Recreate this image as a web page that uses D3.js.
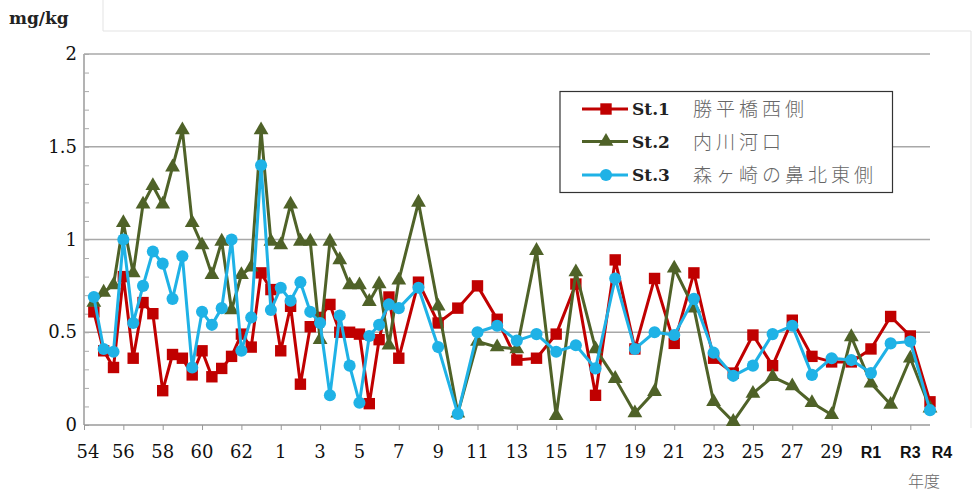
<!DOCTYPE html>
<html><head><meta charset="utf-8">
<script src="https://cdn.jsdelivr.net/npm/d3@7"></script>
<style>
html,body{margin:0;padding:0;background:#fff;}
svg{display:block;}
</style></head>
<body>
<svg id="chart" width="974" height="494"></svg>
<script>
// Measurement periods (Showa-based year position; semiannual until H6, annual from H7)
const periods = [54.5,55,55.5,56,56.5,57,57.5,58,58.5,59,59.5,60,60.5,61,61.5,62,62.5,63,63.5,64,64.5,65,65.5,66,66.5,67,67.5,68,68.5,69,69.5,70,
  71,72,73,74,75,76,77,78,79,80,81,82,83,84,85,86,87,88,89,90,91,92,93,94,95,96,97];

const st1 = [0.61,0.40,0.31,0.80,0.36,0.66,0.60,0.185,0.38,0.36,0.27,0.40,0.26,0.305,0.37,0.49,0.42,0.82,0.73,0.40,0.64,0.22,0.53,0.58,0.65,0.50,0.50,0.49,0.115,0.46,0.69,0.36,
  0.77,0.55,0.63,0.75,0.57,0.35,0.36,0.49,0.76,0.16,0.89,0.41,0.79,0.44,0.82,0.36,0.28,0.485,0.32,0.565,0.37,0.34,0.34,0.41,0.585,0.48,0.125];
const st2 = [0.66,0.715,0.755,1.09,0.82,1.19,1.29,1.19,1.39,1.59,1.09,0.97,0.81,0.99,0.62,0.81,0.85,1.59,0.99,0.97,1.19,0.99,0.99,0.46,0.99,0.89,0.755,0.755,0.665,0.76,0.43,0.78,
  1.20,0.64,0.063,0.45,0.42,0.41,0.94,0.05,0.825,0.41,0.25,0.065,0.18,0.845,0.63,0.125,0.018,0.17,0.26,0.21,0.12,0.055,0.475,0.225,0.11,0.36,0.09];
const st3 = [0.69,0.41,0.395,1.0,0.55,0.75,0.935,0.87,0.68,0.91,0.31,0.61,0.54,0.63,1.0,0.40,0.58,1.40,0.62,0.74,0.67,0.77,0.61,0.55,0.16,0.59,0.32,0.12,0.48,0.54,0.65,0.63,
  0.74,0.42,0.06,0.50,0.535,0.455,0.49,0.395,0.43,0.305,0.79,0.41,0.50,0.485,0.68,0.39,0.265,0.32,0.49,0.535,0.27,0.36,0.35,0.28,0.44,0.45,0.08];

const seriesNames = ["St.1","St.2","St.3"];
const seriesPlaces = ["勝平橋西側","内川河口","森ヶ崎の鼻北東側"];

const xTickValues = [54,56,58,60,62,64,66,68,70,72,74,76,78,80,82,84,86,88,90,92,94,96,97];
const xTickLabels = ["54","56","58","60","62","1","3","5","7","9","11","13","15","17","19","21","23","25","27","29","R1","R3","R4"];
const yTickValues = [0,0.5,1,1.5,2];
const yTickLabels = ["0","0.5","1","1.5","2"];
const yUnit = "mg/kg";
const xUnit = "年度";

const svg = d3.select("#chart");
const L = 84, R = 930, T = 54, B = 425;
const x = d3.scaleLinear().domain([54,97]).range([L,R]);
const y = d3.scaleLinear().domain([0,2]).range([B,T]);
const serif = "'DejaVu Serif','Liberation Serif',serif";

// faint frame
svg.append("path").attr("d","M103,0 V31 H971 V428").attr("fill","none").attr("stroke","#e3e3e3").attr("stroke-width",1);

// gridlines
svg.append("g").selectAll("line").data(yTickValues.filter(v=>v>0)).join("line")
  .attr("x1",L).attr("x2",R).attr("y1",d=>y(d)).attr("y2",d=>y(d))
  .attr("stroke","#a8a8a8").attr("stroke-width",1.6);

// y axis
const yAxis = d3.axisRight(y).tickValues(d3.range(0,2.0001,0.1)).tickSize(5).tickFormat("");
const gy = svg.append("g").attr("transform",`translate(${L},0)`).call(yAxis);
gy.select(".domain").attr("stroke","#9a9a9a").attr("stroke-width",1.5).attr("d",`M0,${B}V${T}`);
gy.selectAll(".tick line").attr("stroke","#aaa");

svg.append("g").selectAll("text").data(yTickValues).join("text")
  .attr("x",77).attr("y",d=>y(d)+6).attr("text-anchor","end")
  .attr("font-family",serif).attr("font-size",18).attr("fill","#111")
  .text((d,i)=>yTickLabels[i]);

// x axis
const xAxis = d3.axisBottom(x).tickValues(xTickValues.filter(v=>v<97)).tickSize(5).tickFormat("");
const gx = svg.append("g").attr("transform",`translate(0,${B})`).call(xAxis);
gx.select(".domain").attr("stroke","#9a9a9a").attr("stroke-width",1.5).attr("d",`M${L},0H${R}`);
gx.selectAll(".tick line").attr("stroke","#999");

svg.append("g").selectAll("text").data(xTickValues).join("text")
  .attr("x",(d,i)=>x(d)+(i===0?4:0)+(d===97?12:0)).attr("y",458).attr("text-anchor","middle")
  .attr("font-family",(d,i)=>xTickLabels[i].startsWith("R")?"'Liberation Sans',Arial,sans-serif":serif)
  .attr("font-weight",(d,i)=>xTickLabels[i].startsWith("R")?"bold":"normal")
  .attr("font-size",(d,i)=>xTickLabels[i].startsWith("R")?16:18).attr("fill","#111")
  .text((d,i)=>xTickLabels[i]);

// unit labels
svg.append("text").attr("x",9).attr("y",24).attr("font-family",serif)
  .attr("font-weight","bold").attr("font-size",17).attr("fill","#222").text(yUnit);
svg.append("text").attr("x",908).attr("y",487).attr("font-family","'Noto Sans CJK JP',sans-serif")
  .attr("font-weight",300).attr("font-size",16).attr("fill","#666").text(xUnit);

// series
const colors = ["#C00000","#4F6228","#1FB2E6"];
const allSeries = [st1,st2,st3];
const line = d3.line().x(d=>x(d[0])).y(d=>y(d[1]));
const symbols = [d3.symbolSquare, d3.symbolTriangle, d3.symbolCircle];
const symSizes = [130, 95, 115];

allSeries.forEach((vals,k)=>{
  const pts = periods.map((p,i)=>[p,vals[i]]);
  const g = svg.append("g");
  g.append("path").datum(pts).attr("d",line).attr("fill","none")
    .attr("stroke",colors[k]).attr("stroke-width",3).attr("stroke-linejoin","round");
  g.selectAll("path.m").data(pts).join("path").attr("class","m")
    .attr("transform",d=>`translate(${x(d[0])},${y(d[1])})`)
    .attr("d",d3.symbol().type(symbols[k]).size(symSizes[k])())
    .attr("fill",colors[k]);
});

// legend
const lg = svg.append("g");
lg.append("rect").attr("x",560).attr("y",91.5).attr("width",332.5).attr("height",101)
  .attr("fill","#fff").attr("stroke","#333").attr("stroke-width",1.2);
const rowsY = [109,141.5,175];
seriesNames.forEach((n,k)=>{
  lg.append("line").attr("x1",582).attr("x2",628).attr("y1",rowsY[k]).attr("y2",rowsY[k])
    .attr("stroke",colors[k]).attr("stroke-width",3);
  lg.append("path").attr("transform",`translate(606,${rowsY[k]})`)
    .attr("d",d3.symbol().type(symbols[k]).size(symSizes[k])()).attr("fill",colors[k]);
  lg.append("text").attr("x",632).attr("y",rowsY[k]+6).attr("font-family",serif)
    .attr("font-weight","bold").attr("font-size",17).attr("fill","#222").text(n);
  lg.append("text").attr("x",693).attr("y",rowsY[k]+7).attr("font-family","'Noto Sans CJK JP',sans-serif")
    .attr("font-weight",300).attr("font-size",19).attr("letter-spacing",4).attr("fill","#666").text(seriesPlaces[k]);
});
</script>
</body></html>
